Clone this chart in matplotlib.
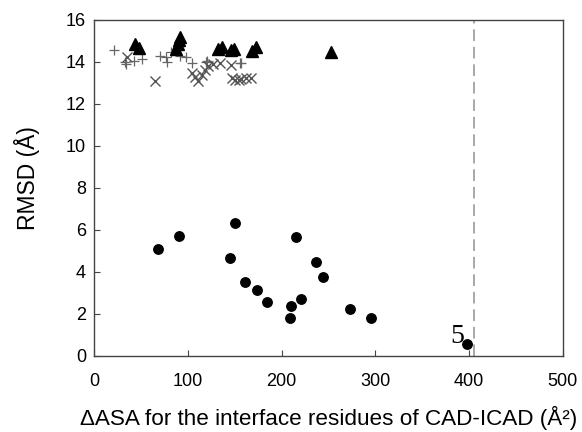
import matplotlib
matplotlib.use("Agg")
import matplotlib.pyplot as plt

plt.rcParams['font.family'] = ['Liberation Sans', 'DejaVu Sans']

# circles (low RMSD solutions)
circ_x = [68, 90, 145, 150, 161, 174, 184, 209, 210, 215, 221, 237, 244, 273, 295, 398]
circ_y = [5.1, 5.7, 4.65, 6.35, 3.5, 3.15, 2.57, 1.8, 2.38, 5.65, 2.72, 4.45, 3.77, 2.25, 1.8, 0.55]

# triangles
tri_x = [43, 48, 87.5, 89, 90, 91, 132, 136, 146, 149, 168, 173, 253]
tri_y = [14.85, 14.65, 14.6, 14.85, 15.05, 15.2, 14.6, 14.7, 14.55, 14.6, 14.5, 14.7, 14.45]

# plus markers
plus_x = [21, 33, 34, 42, 51, 70, 77, 78, 82, 92, 98, 104, 119, 120, 155, 157]
plus_y = [14.55, 13.98, 13.9, 14.05, 14.15, 14.3, 14.22, 13.98, 14.45, 14.3, 14.25, 13.94, 14.01, 14.05, 13.94, 13.94]

# cross markers
cross_x = [35, 65, 104, 108, 111, 115, 118, 121, 127, 134, 146, 147, 150, 154, 157, 162, 167]
cross_y = [14.22, 13.08, 13.46, 13.28, 13.1, 13.38, 13.62, 13.8, 13.9, 13.94, 13.86, 13.22, 13.15, 13.15, 13.2, 13.22, 13.22]

cutoff_x = 405
label5_x, label5_y = 387, 0.92

fig = plt.figure(figsize=(5.82, 4.32), dpi=100)
ax = fig.add_axes([0.162, 0.176, 0.805, 0.778])

ax.axvline(cutoff_x, color='#a8a8a8', lw=1.4, dashes=(6, 3), zorder=1)

ax.plot(plus_x, plus_y, '+', color='#666666', ms=7, mew=0.9, zorder=2)
ax.plot(cross_x, cross_y, 'x', color='#555555', ms=6.5, mew=1.0, zorder=2)
ax.plot(tri_x, tri_y, '^', color='black', ms=8, zorder=3)
ax.plot(circ_x, circ_y, 'o', color='black', ms=6.8, zorder=3)

ax.text(label5_x, label5_y, '5', family='Liberation Serif', fontsize=20,
        ha='center', va='center')

ax.set_xlim(0, 500)
ax.set_ylim(0, 16)
ax.set_xticks([0, 100, 200, 300, 400, 500])
ax.set_yticks(range(0, 17, 2))
ax.tick_params(direction='in', length=4, labelsize=13, color='#444444')
ax.tick_params(axis='x', pad=12)
ax.tick_params(axis='y', pad=6)
for s in ax.spines.values():
    s.set_color('#444444')
    s.set_linewidth(1.0)

ax.set_ylabel('RMSD (Å)', fontsize=16.5)
ax.yaxis.set_label_coords(-0.115, 0.53)
ax.set_xlabel('ΔASA for the interface residues of CAD-ICAD (Å²)', fontsize=16.2, labelpad=12)

fig.savefig('out.png', dpi=100)
